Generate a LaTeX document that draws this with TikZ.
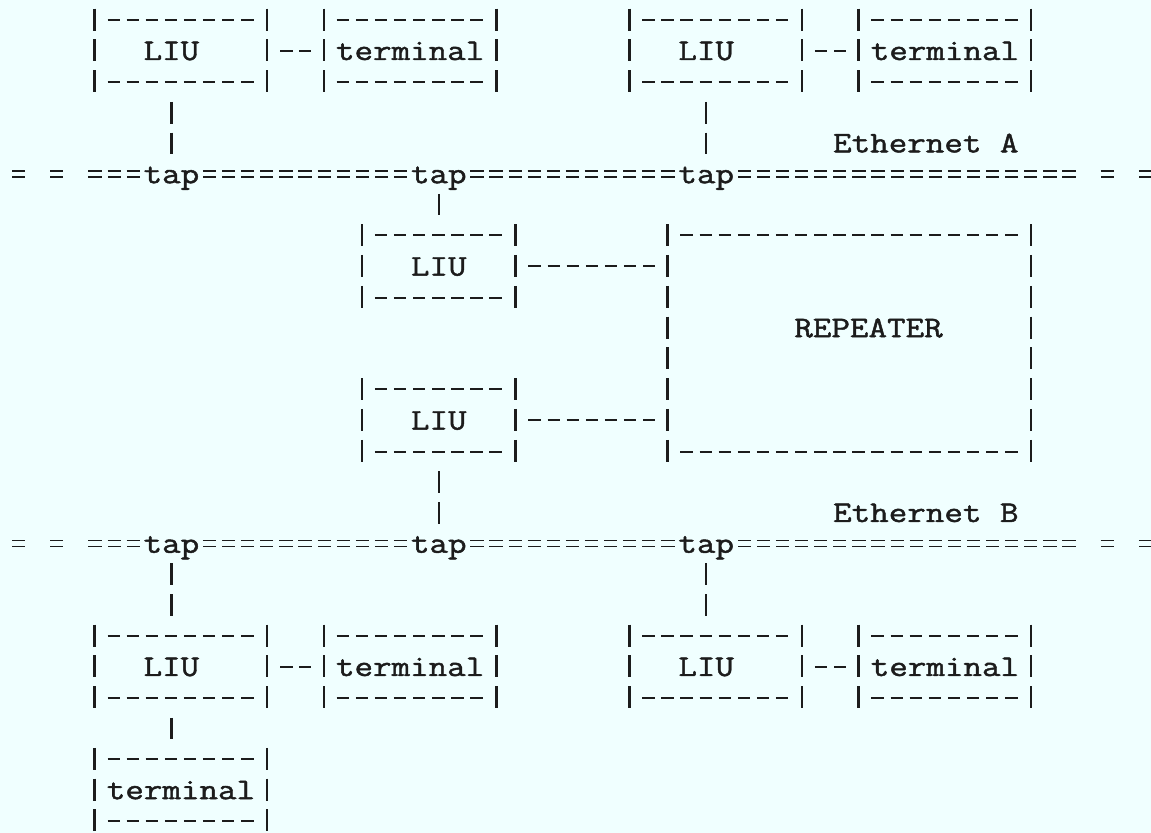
\documentclass[tikz,border=0pt]{standalone}
\usepackage{fontspec}
\setmonofont{Latin Modern Mono}[FakeStretch=1.2,FakeBold=1.5]
\usepackage{tikz}
\usetikzlibrary{calc}
\definecolor{paper}{HTML}{F0FFFF}
\definecolor{ink}{HTML}{1C1C1C}
\tikzset{
  typer/.style={font=\ttfamily\fontsize{15}{15}\selectfont, text=ink, inner sep=0pt,
    text height=10.4pt, text depth=1.2pt},
  hrule/.style={draw=ink, line width=1.05pt, dash pattern=on 6.2pt off 3.35pt,
    shorten <=6.45pt, shorten >=6.45pt},
  vrule/.style={draw=ink, line width=1.15pt, dash pattern=on 11pt off 4.4pt,
    shorten <=-5.5pt, shorten >=-5.5pt},
  box/.style={typer, minimum height=30.8pt,
    append after command={
      (\tikzlastnode.north west) edge[hrule] (\tikzlastnode.north east)
      (\tikzlastnode.south west) edge[hrule] (\tikzlastnode.south east)
      (\tikzlastnode.north west) edge[vrule] (\tikzlastnode.south west)
      (\tikzlastnode.north east) edge[vrule] (\tikzlastnode.south east)}},
  wide/.style={box, minimum width=85.95pt},
  narrow/.style={box, minimum width=76.4pt},
  link/.style={hrule},
  drop/.style={draw=ink, line width=1.15pt, dash pattern=on 11pt off 4.4pt,
    shorten <=9.9pt, shorten >=9.9pt},
  bus/.style={draw=ink, line width=.85pt, double=paper, double distance=2.2pt,
    dash pattern=on 6.6pt off 2.95pt, shorten <=15.8pt, shorten >=15.8pt},
  busend/.style={bus, shorten <=0pt,
    dash pattern=on 6.6pt off 12.5pt on 6.6pt off 12.5pt on 6.6pt off 2.95pt on 6.6pt off 2.95pt on 6.6pt off 40pt},
  bustail/.style={bus, shorten <=0pt, shorten >=0pt, dash pattern=on 6.6pt off 12.5pt on 6.6pt off 40pt}
}
\begin{document}
\begin{tikzpicture}[x=9.55pt,y=-15.4pt]
  \useasboundingbox[fill=paper] (0.026,-0.649) rectangle (60.29,26.396);

  % stations on Ethernet A
  \node[wide] (liuA1) at (9.5,1) {LIU\hspace*{9.55pt}};
  \node[wide] (termA1) at (21.5,1) {terminal};
  \node[wide] (liuA2) at (37.5,1) {LIU\hspace*{9.55pt}};
  \node[wide] (termA2) at (49.5,1) {terminal};

  % repeater between the two cables
  \node[narrow] (liuM1) at (23,8) {LIU};
  \node[narrow] (liuM2) at (23,13) {LIU};
  \node[box, minimum width=181.45pt, minimum height=107.8pt] (rep) at (44.5,10.5) {};
  \node[typer] (reptext) at (45.5,10) {REPEATER};

  % stations on Ethernet B
  \node[wide] (liuB1) at (9.5,21) {LIU\hspace*{9.55pt}};
  \node[wide] (termB1) at (21.5,21) {terminal};
  \node[wide] (liuB2) at (37.5,21) {LIU\hspace*{9.55pt}};
  \node[wide] (termB2) at (49.5,21) {terminal};
  \node[wide] (termB3) at (9.5,25) {terminal};

  % the two cables with their taps
  \foreach \n/\r in {A/5,B/17}{
    \foreach \i/\c in {1/9,2/23,3/37}
      \node[typer] (tap\n\i) at (\c,\r) {tap};
    \node[typer] (eth\n) at (48.5,\r-1) {Ethernet \n};
    \coordinate (w\n) at (0.6545,\r);
    \coordinate (e\n) at (56.3455,\r);
    \coordinate (t\n) at (57.6545,\r);
    \coordinate (x\n) at (60.3455,\r);
    \draw[busend] (w\n) -- (tap\n1.center);
    \draw[bus] (tap\n1.center) -- (tap\n2.center);
    \draw[bus] (tap\n2.center) -- (tap\n3.center);
    \draw[bus,shorten >=0pt] (tap\n3.center) -- (e\n);
    \draw[bustail] (t\n) -- (x\n);
  }

  % LIU to terminal
  \foreach \a/\b in {liuA1/termA1,liuA2/termA2,liuB1/termB1,liuB2/termB2}
    \draw[link] (\a.east) -- (\b.west);
  \draw[link] (liuM1.east) -- (liuM1.east -| rep.west);
  \draw[link] (liuM2.east) -- (liuM2.east -| rep.west);

  % drops to the taps
  \draw[drop] (tapA1 |- liuA1.south) -- (tapA1.center);
  \draw[drop] (tapA3 |- liuA2.south) -- (tapA3.center);
  \draw[drop] (tapA2.center) -- (liuM1.north);
  \draw[drop] (liuM2.south) -- (tapB2.center);
  \draw[drop] (tapB1.center) -- (tapB1 |- liuB1.north);
  \draw[drop] (tapB3.center) -- (tapB3 |- liuB2.north);
  \draw[drop] (tapB1 |- liuB1.south) -- (tapB1 |- termB3.north);
\end{tikzpicture}
\end{document}
